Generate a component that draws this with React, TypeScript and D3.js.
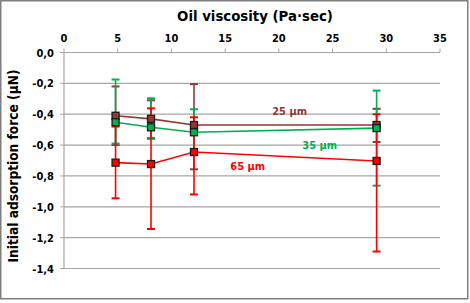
import React from "react";
import * as d3 from "d3";

const viscosity = [4.8, 8.1, 12.1, 29.1];

const force25 = [-0.41, -0.43, -0.47, -0.47];
const force25Upper = [-0.22, -0.31, -0.205, -0.365];
const force25Lower = [-0.6, -0.555, -0.757, -0.58];

const force35 = [-0.452, -0.485, -0.517, -0.49];
const force35Upper = [-0.175, -0.297, -0.368, -0.247];
const force35Lower = [-0.59, -0.56, -0.66, -0.863];

const force65 = [-0.714, -0.723, -0.645, -0.703];
const force65Upper = [-0.48, -0.362, -0.42, -0.4];
const force65Lower = [-0.945, -1.144, -0.92, -1.29];

const xTicks = [0, 5, 10, 15, 20, 25, 30, 35];
const yTicks = [0, -0.2, -0.4, -0.6, -0.8, -1.0, -1.2, -1.4];

const seriesNames = ["25 µm", "35 µm", "65 µm"];
const seriesColors = ["#953735", "#00b050", "#ff0000"];

const W = 470;
const H = 303;
const FONT = "'DejaVu Sans Condensed', 'DejaVu Sans', sans-serif";

export default function App() {
  const x = d3.scaleLinear().domain([0, 35]).range([64, 440]);
  const y = d3.scaleLinear().domain([0, -1.4]).range([52.5, 268.5]);
  const fmt = (v: number) => d3.format(".1f")(v).replace(".", ",").replace("−", "-");

  const series = [
    { name: seriesNames[0], color: seriesColors[0], v: force25, up: force25Upper, lo: force25Lower, label: { x: 21.0, y: -0.405 } },
    { name: seriesNames[1], color: seriesColors[1], v: force35, up: force35Upper, lo: force35Lower, label: { x: 23.8, y: -0.625 } },
    { name: seriesNames[2], color: seriesColors[2], v: force65, up: force65Upper, lo: force65Lower, label: { x: 17.1, y: -0.76 } },
  ];

  const line = d3
    .line<number>()
    .x((_, i) => x(viscosity[i]))
    .y((d) => y(d));

  const cap = 4;
  const ms = 7;

  return (
    <div style={{ position: "absolute", left: 0, top: 0 }}>
      <svg width={W} height={H} style={{ display: "block" }}>
        <rect x={0} y={0} width={W} height={H} fill="#fff" />
        <rect x={0.75} y={0.75} width={467} height={298} fill="none" stroke="#7f7f7f" strokeWidth={1.5} />

        {/* gridlines */}
        {yTicks.slice(1).map((t) => (
          <line key={t} x1={x(0)} x2={x(35)} y1={y(t)} y2={y(t)} stroke="#a6a6a6" strokeWidth={1.2} />
        ))}
        {/* axes */}
        <line x1={x(0)} x2={x(35)} y1={y(0)} y2={y(0)} stroke="#a6a6a6" strokeWidth={1.2} />
        <line x1={x(0)} x2={x(0)} y1={y(0)} y2={y(-1.4)} stroke="#a6a6a6" strokeWidth={1.2} />
        {xTicks.map((t) => (
          <line key={t} x1={x(t)} x2={x(t)} y1={y(0)} y2={y(0) - 4} stroke="#a6a6a6" strokeWidth={1} />
        ))}
        {yTicks.map((t) => (
          <line key={t} x1={x(0) - 4} x2={x(0)} y1={y(t)} y2={y(t)} stroke="#a6a6a6" strokeWidth={1} />
        ))}

        {/* tick labels */}
        {xTicks.map((t) => (
          <text key={t} x={x(t)} y={42} textAnchor="middle" fontFamily={FONT} fontWeight="bold" fontSize={11} fill="#000">
            {t}
          </text>
        ))}
        {yTicks.map((t) => (
          <text key={t} x={54} y={y(t) + 4} textAnchor="end" fontFamily={FONT} fontWeight="bold" fontSize={11} fill="#000">
            {fmt(t)}
          </text>
        ))}

        {/* titles */}
        <text x={255} y={20.5} textAnchor="middle" fontFamily={FONT} fontWeight="bold" fontSize={14.8} fill="#000">
          Oil viscosity (Pa·sec)
        </text>
        <text
          transform={`translate(17.5,166) rotate(-90)`}
          textAnchor="middle"
          fontFamily={FONT}
          fontWeight="bold"
          fontSize={13.6}
          fill="#000"
        >
          Initial adsorption force (µN)
        </text>

        {/* error bars */}
        {series.map((s) => (
          <g key={s.name + "err"}>
            {viscosity.map((xv, i) => (
              <g key={i} stroke={s.color} strokeWidth={1.6}>
                <line x1={x(xv)} x2={x(xv)} y1={y(s.up[i])} y2={y(s.lo[i])} />
                <line x1={x(xv) - cap} x2={x(xv) + cap} y1={y(s.up[i])} y2={y(s.up[i])} strokeWidth={2} />
                <line x1={x(xv) - cap} x2={x(xv) + cap} y1={y(s.lo[i])} y2={y(s.lo[i])} strokeWidth={2} />
              </g>
            ))}
          </g>
        ))}

        {/* lines and markers */}
        {series.map((s) => (
          <g key={s.name}>
            <path d={line(s.v) || ""} fill="none" stroke={s.color} strokeWidth={1.6} />
            {viscosity.map((xv, i) => (
              <rect
                key={i}
                x={x(xv) - ms / 2}
                y={y(s.v[i]) - ms / 2}
                width={ms}
                height={ms}
                fill={s.color}
                stroke="#1a1a1a"
                strokeWidth={1.3}
              />
            ))}
          </g>
        ))}

        {/* series labels */}
        {series.map((s) => (
          <text
            key={s.name + "lbl"}
            x={x(s.label.x)}
            y={y(s.label.y)}
            textAnchor="middle"
            fontFamily={FONT}
            fontWeight="bold"
            fontSize={11}
            fill={s.color}
          >
            {s.name}
          </text>
        ))}
      </svg>
    </div>
  );
}
